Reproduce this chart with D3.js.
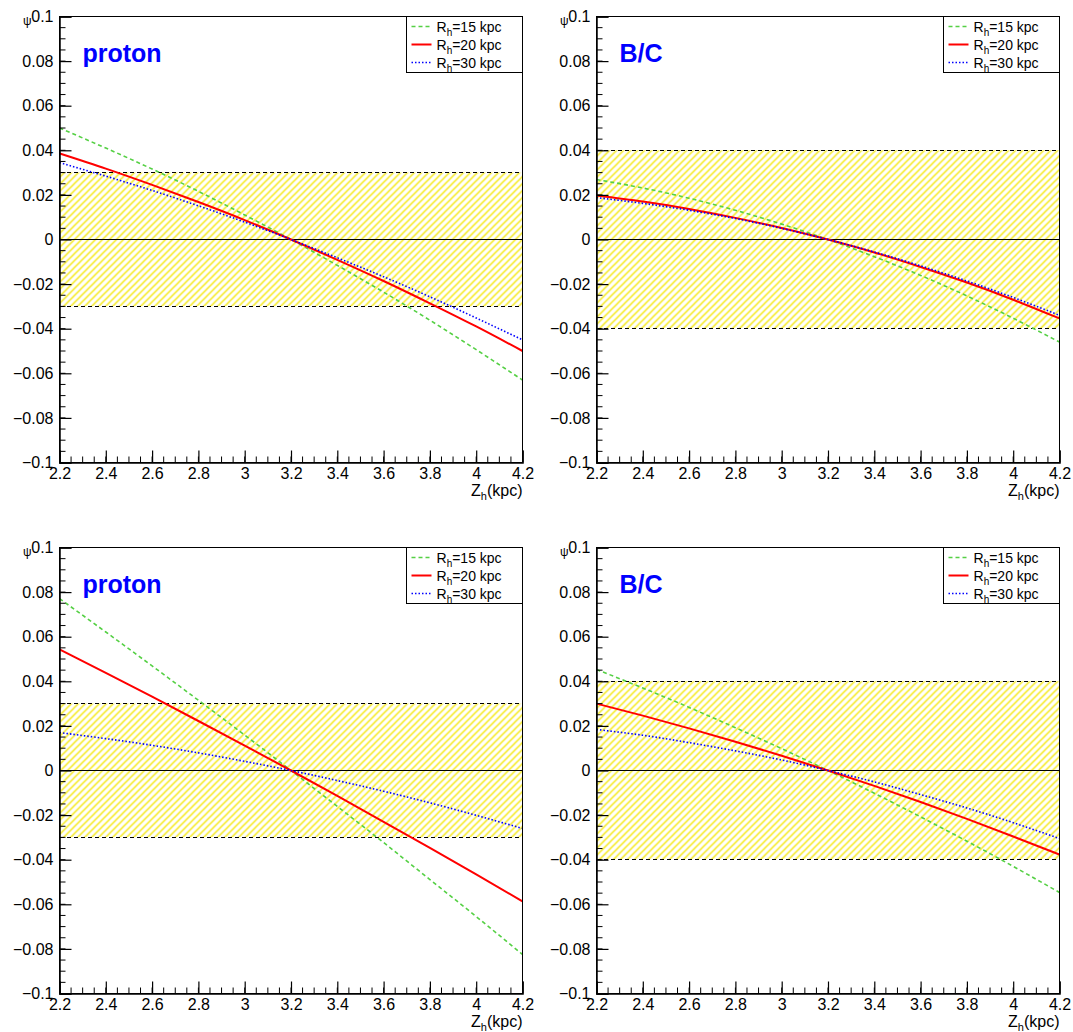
<!DOCTYPE html>
<html>
<head>
<meta charset="utf-8">
<script src="https://cdn.jsdelivr.net/npm/d3@7"></script>
<style>
  html, body { margin: 0; padding: 0; background: #fff; }
  svg { display: block; font-family: "Liberation Sans", Arial, Helvetica, sans-serif; }
</style>
</head>
<body>
<svg id="chart" width="1073" height="1032"></svg>
<script>
// Halo height Z_h grid (kpc)
const zh = [2.2, 2.4, 2.6, 2.8, 3.0, 3.2, 3.4, 3.6, 3.8, 4.0, 4.2];

// Upper row: proton
const protonA_R15 = [0.0500, 0.0410, 0.0316, 0.0216, 0.0110, 0, -0.0116, -0.0236, -0.0362, -0.0494, -0.0630];
const protonA_R20 = [0.0386, 0.0318, 0.0245, 0.0168, 0.0087, 0, -0.0091, -0.0186, -0.0286, -0.0390, -0.0500];
const protonA_R30 = [0.0345, 0.0284, 0.0220, 0.0151, 0.0078, 0, -0.0082, -0.0167, -0.0257, -0.0352, -0.0450];
// Upper row: B/C
const bcA_R15 = [0.0269, 0.0231, 0.0185, 0.0131, 0.0069, 0, -0.0077, -0.0161, -0.0253, -0.0353, -0.0460];
const bcA_R20 = [0.0197, 0.0170, 0.0137, 0.0097, 0.0052, 0, -0.0058, -0.0123, -0.0193, -0.0270, -0.0354];
const bcA_R30 = [0.0188, 0.0162, 0.0131, 0.0094, 0.0050, 0, -0.0056, -0.0118, -0.0186, -0.0260, -0.0340];
// Lower row: proton
const protonB_R15 = [0.0771, 0.0621, 0.0469, 0.0315, 0.0159, 0, -0.0161, -0.0323, -0.0489, -0.0655, -0.0825];
const protonB_R20 = [0.0543, 0.0438, 0.0331, 0.0222, 0.0112, 0, -0.0114, -0.0230, -0.0347, -0.0466, -0.0587];
const protonB_R30 = [0.0170, 0.0143, 0.0113, 0.0079, 0.0041, 0, -0.0045, -0.0093, -0.0145, -0.0201, -0.0260];
// Lower row: B/C
const bcB_R15 = [0.0453, 0.0370, 0.0283, 0.0192, 0.0098, 0, -0.0102, -0.0208, -0.0317, -0.0430, -0.0547];
const bcB_R20 = [0.0300, 0.0246, 0.0189, 0.0129, 0.0066, 0, -0.0069, -0.0141, -0.0217, -0.0296, -0.0377];
const bcB_R30 = [0.0184, 0.0158, 0.0125, 0.0088, 0.0047, 0, -0.0051, -0.0108, -0.0168, -0.0234, -0.0305];

// Allowed ranges (half-widths of the shaded bands)
const protonBand = 0.03;
const bcBand = 0.04;

// Axis ticks
const xMajor = [2.2, 2.4, 2.6, 2.8, 3.0, 3.2, 3.4, 3.6, 3.8, 4.0, 4.2];
const xLabels = ["2.2", "2.4", "2.6", "2.8", "3", "3.2", "3.4", "3.6", "3.8", "4", "4.2"];
const yMajor = [0.1, 0.08, 0.06, 0.04, 0.02, 0, -0.02, -0.04, -0.06, -0.08, -0.1];
const yLabels = ["0.1", "0.08", "0.06", "0.04", "0.02", "0", "\u22120.02", "\u22120.04", "\u22120.06", "\u22120.08", "\u22120.1"];

const seriesNames = ["15", "20", "30"];
const seriesStyle = [
  { color: "#55d044", width: 1.6, dash: "4,3" },
  { color: "#ff0000", width: 2, dash: null },
  { color: "#0000ff", width: 1.6, dash: "1.5,2" }
];

const panels = [
  { label: "proton", band: protonBand, series: [protonA_R15, protonA_R20, protonA_R30], left: 59, top: 16 },
  { label: "B/C", band: bcBand, series: [bcA_R15, bcA_R20, bcA_R30], left: 596, top: 16 },
  { label: "proton", band: protonBand, series: [protonB_R15, protonB_R20, protonB_R30], left: 59, top: 547 },
  { label: "B/C", band: bcBand, series: [bcB_R15, bcB_R20, bcB_R30], left: 596, top: 547 }
];
const W = 463, H = 446;

const svg = d3.select("#chart");
const defs = svg.append("defs");
const pat = defs.append("pattern")
  .attr("id", "hatch")
  .attr("patternUnits", "userSpaceOnUse")
  .attr("width", 7).attr("height", 7);
pat.append("path")
  .attr("d", "M-1,1 l2,-2 M0,7 l7,-7 M6,8 l2,-2")
  .attr("stroke", "#f4e600").attr("stroke-width", 1.3);

panels.forEach((p, pi) => {
  const g = svg.append("g").attr("transform", `translate(${p.left + 0.5},${p.top + 0.5})`);
  const x = d3.scaleLinear().domain([2.2, 4.2]).range([0, W]);
  const y = d3.scaleLinear().domain([-0.1, 0.1]).range([H, 0]);

  defs.append("clipPath").attr("id", "clip" + pi)
    .append("rect").attr("width", W).attr("height", H);

  // shaded band
  g.append("rect")
    .attr("x", 0).attr("width", W)
    .attr("y", y(p.band)).attr("height", y(-p.band) - y(p.band))
    .attr("fill", "url(#hatch)");
  [p.band, -p.band].forEach(v => {
    g.append("line")
      .attr("x1", 0).attr("x2", W).attr("y1", Math.round(y(v))).attr("y2", Math.round(y(v)))
      .attr("stroke", "#000").attr("stroke-width", 1).attr("stroke-dasharray", "4,3")
      .attr("shape-rendering", "crispEdges");
  });
  // zero line
  g.append("line")
    .attr("x1", 0).attr("x2", W).attr("y1", Math.round(y(0))).attr("y2", Math.round(y(0)))
    .attr("stroke", "#000").attr("stroke-width", 1)
    .attr("shape-rendering", "crispEdges");

  // curves
  const line = d3.line().x((d, i) => x(zh[i])).y(d => y(d)).curve(d3.curveNatural);
  const cg = g.append("g").attr("clip-path", `url(#clip${pi})`);
  p.series.forEach((s, si) => {
    const st = seriesStyle[si];
    cg.append("path")
      .attr("d", line(s))
      .attr("fill", "none")
      .attr("stroke", st.color)
      .attr("stroke-width", st.width)
      .attr("stroke-dasharray", st.dash);
  });

  // frame
  g.append("rect").attr("width", W).attr("height", H)
    .attr("fill", "none").attr("stroke", "#000").attr("stroke-width", 1)
    .attr("shape-rendering", "crispEdges");

  // x axis (ticks pointing up)
  const xAxis = d3.axisBottom(x).tickValues(xMajor).tickSize(-12).tickFormat((d, i) => xLabels[i]).tickPadding(5);
  const xMinor = d3.range(0, 41).map(i => 2.2 + i * 0.05);
  const gx = g.append("g").attr("transform", `translate(0,${H})`).call(xAxis);
  gx.attr("font-family", null).attr("font-size", null);
  gx.select(".domain").attr("stroke-width", 1.5);
  gx.selectAll(".tick text").attr("font-size", 16).attr("fill", "#000");
  gx.selectAll(".tick line").attr("stroke-width", 1.2);
  g.append("g").selectAll("line").data(xMinor).join("line")
    .attr("x1", d => x(d)).attr("x2", d => x(d))
    .attr("y1", H).attr("y2", H - 6)
    .attr("stroke", "#000").attr("stroke-width", 1);

  // y axis (ticks pointing right)
  const yAxis = d3.axisLeft(y).tickValues(yMajor).tickSize(-12).tickFormat((d, i) => yLabels[i]).tickPadding(6);
  const gy = g.append("g").call(yAxis);
  gy.attr("font-family", null).attr("font-size", null);
  gy.select(".domain").attr("stroke-width", 1.5);
  gy.selectAll(".tick text").attr("font-size", 16).attr("fill", "#000");
  gy.selectAll(".tick line").attr("stroke-width", 1.2);
  const yMinor = d3.range(0, 41).map(i => -0.1 + i * 0.005);
  g.append("g").selectAll("line").data(yMinor).join("line")
    .attr("x1", 0).attr("x2", 6)
    .attr("y1", d => y(d)).attr("y2", d => y(d))
    .attr("stroke", "#000").attr("stroke-width", 1);

  // axis titles
  g.append("text").attr("x", -28).attr("y", 8)
    .attr("text-anchor", "end").attr("font-size", 12).text("\u03c8");
  const xt = g.append("text").attr("x", W).attr("y", H + 33)
    .attr("text-anchor", "end").attr("font-size", 16);
  xt.append("tspan").text("Z");
  xt.append("tspan").attr("font-size", 11).attr("dy", 4).text("h");
  xt.append("tspan").attr("dy", -4).text("(kpc)");

  // panel label
  g.append("text").attr("x", 23).attr("y", 45)
    .attr("font-size", 25).attr("font-weight", "bold").attr("fill", "#0000ff")
    .text(p.label);

  // legend
  const lg = g.append("g").attr("transform", `translate(${W - 116},0)`);
  lg.append("rect").attr("width", 116).attr("height", 56)
    .attr("fill", "#fff").attr("stroke", "#000").attr("stroke-width", 1)
    .attr("shape-rendering", "crispEdges");
  seriesNames.forEach((nm, si) => {
    const st = seriesStyle[si];
    const cy = 10 + si * 18;
    lg.append("line").attr("x1", 5).attr("x2", 25).attr("y1", cy).attr("y2", cy)
      .attr("stroke", st.color).attr("stroke-width", st.width)
      .attr("stroke-dasharray", st.dash);
    const t = lg.append("text").attr("x", 30).attr("y", cy + 5).attr("font-size", 14);
    t.append("tspan").text("R");
    t.append("tspan").attr("font-size", 10).attr("dy", 4).text("h");
    t.append("tspan").attr("dy", -4).text("=" + nm + " kpc");
  });
});
</script>
</body>
</html>
